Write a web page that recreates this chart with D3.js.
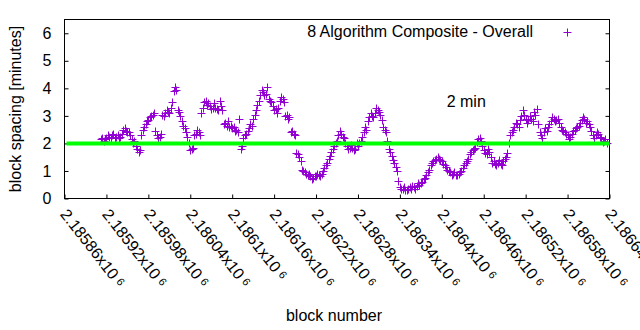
<!DOCTYPE html>
<html><head><meta charset="utf-8">
<script src="https://cdn.jsdelivr.net/npm/d3@7"></script>
<style>
html,body{margin:0;padding:0;background:#fff;}
svg{display:block;font-family:"Liberation Sans",Arial,sans-serif;}
</style></head>
<body><svg id="c" width="640" height="330"></svg>
<script>
const blocks = [
2185912,2185916,2185920,2185924,2185928,2185932,2185936,2185940,2185944,2185948,
2185952,2185956,2185960,2185964,2185968,2185972,2185976,2185980,2185984,2185988,
2185992,2185996,2186000,2186004,2186008,2186012,2186016,2186020,2186024,2186028,
2186032,2186036,2186040,2186044,2186048,2186052,2186056,2186060,2186064,2186068,
2186072,2186076,2186080,2186084,2186088,2186092,2186096,2186100,2186104,2186108,
2186112,2186116,2186120,2186124,2186128,2186132,2186136,2186140,2186144,2186148,
2186152,2186156,2186160,2186164,2186168,2186172,2186176,2186180,2186184,2186188,
2186192,2186196,2186200,2186204,2186208,2186212,2186216,2186220,2186224,2186228,
2186232,2186236,2186240,2186244,2186248,2186252,2186256,2186260,2186264,2186268,
2186272,2186276,2186280,2186284,2186288,2186292,2186296,2186300,2186304,2186308,
2186312,2186316,2186320,2186324,2186328,2186332,2186336,2186340,2186344,2186348,
2186352,2186356,2186360,2186364,2186368,2186372,2186376,2186380,2186384,2186388,
2186392,2186396,2186400,2186404,2186408,2186412,2186416,2186420,2186424,2186428,
2186432,2186436,2186440,2186444,2186448,2186452,2186456,2186460,2186464,2186468,
2186472,2186476,2186480,2186484,2186488,2186492,2186496,2186500,2186504,2186508,
2186512,2186516,2186520,2186524,2186528,2186532,2186536,2186540,2186544,2186548,
2186552,2186556,2186560,2186564,2186568,2186572,2186576,2186580,2186584,2186588,
2186592,2186596,2186600,2186604,2186608,2186612,2186616,2186620,2186624,2186628,
2186632,2186636];
const spacing = [
2.15,2.1,2.2,2.25,2.3,2.2,2.3,2.25,2.5,2.45,
2.4,2.15,2.1,1.8,1.75,2.5,2.7,2.85,3.0,3.1,
2.3,2.25,3.05,3.1,3.15,3.3,3.9,3.95,3.15,2.8,
2.55,2.25,1.75,1.85,2.35,2.4,3.1,3.5,3.4,3.35,
3.3,3.3,3.2,3.35,2.7,2.65,2.6,2.55,2.45,2.4,
1.8,2.2,2.35,2.55,2.65,3.05,3.4,3.75,3.85,3.8,
3.6,3.5,3.2,3.1,3.55,3.6,3.0,2.9,2.4,2.35,
1.65,1.5,1.05,0.95,0.85,0.8,0.75,0.8,0.85,0.9,
1.1,1.3,1.55,1.8,2.0,2.3,2.35,2.2,1.9,1.85,
1.85,1.8,1.9,2.1,2.4,2.5,2.95,3.0,3.1,3.2,
3.05,2.6,2.4,1.8,1.55,1.3,1.0,0.4,0.35,0.3,
0.35,0.35,0.4,0.45,0.5,0.6,0.75,0.95,1.2,1.35,
1.45,1.45,1.35,1.2,1.05,0.95,0.9,0.85,0.9,1.0,
1.2,1.35,1.6,1.75,1.85,2.15,2.1,1.75,1.6,1.7,
1.3,1.25,1.3,1.25,1.35,1.5,2.0,2.4,2.6,2.7,
2.85,3.2,2.9,2.85,2.9,3.15,3.25,2.4,2.2,2.55,
2.6,2.8,2.9,2.85,2.75,2.5,2.4,2.3,2.25,2.45,
2.55,2.65,2.85,2.9,2.8,2.6,2.3,2.3,2.35,2.2,
2.1,2.0];
const blocksB = [
2185914,2185918,2185922,2185926,2185930,2185934,2185938,2185942,2185946,2185950,
2185954,2185958,2185962,2185966,2185970,2185974,2185978,2185982,2185986,2185990,
2185994,2185998,2186002,2186006,2186010,2186014,2186018,2186022,2186026,2186030,
2186034,2186038,2186042,2186046,2186050,2186054,2186058,2186062,2186066,2186070,
2186074,2186078,2186082,2186086,2186090,2186094,2186098,2186102,2186106,2186110,
2186114,2186118,2186122,2186126,2186130,2186134,2186138,2186142,2186146,2186150,
2186154,2186158,2186162,2186166,2186170,2186174,2186178,2186182,2186186,2186190,
2186194,2186198,2186202,2186206,2186210,2186214,2186218,2186222,2186226,2186230,
2186234,2186238,2186242,2186246,2186250,2186254,2186258,2186262,2186266,2186270,
2186274,2186278,2186282,2186286,2186290,2186294,2186298,2186302,2186306,2186310,
2186314,2186318,2186322,2186326,2186330,2186334,2186338,2186342,2186346,2186350,
2186354,2186358,2186362,2186366,2186370,2186374,2186378,2186382,2186386,2186390,
2186394,2186398,2186402,2186406,2186410,2186414,2186418,2186422,2186426,2186430,
2186434,2186438,2186442,2186446,2186450,2186454,2186458,2186462,2186466,2186470,
2186474,2186478,2186482,2186486,2186490,2186494,2186498,2186502,2186506,2186510,
2186514,2186518,2186522,2186526,2186530,2186534,2186538,2186542,2186546,2186550,
2186554,2186558,2186562,2186566,2186570,2186574,2186578,2186582,2186586,2186590,
2186594,2186598,2186602,2186606,2186610,2186614,2186618,2186622,2186626,2186630,
2186634];
const spacingB = [
2.2,2.15,2.3,2.2,2.35,2.25,2.2,2.35,2.55,2.4,
2.3,2.0,1.9,1.7,2.3,2.6,2.8,2.95,3.05,2.45,
2.2,2.35,3.0,3.2,3.1,3.5,4.05,3.2,3.0,2.65,
2.4,2.0,1.8,2.3,2.5,2.3,3.3,3.55,3.45,3.25,
3.45,3.25,3.55,3.2,2.75,2.8,2.65,2.6,2.5,2.9,
1.9,2.3,2.45,2.7,2.9,3.2,3.55,3.95,3.75,4.05,
3.55,3.35,3.25,3.3,3.7,3.5,3.05,2.95,2.45,2.3,
1.6,1.35,1.0,0.9,0.9,0.7,0.8,0.9,0.8,1.0,
1.2,1.45,1.7,1.9,2.1,2.45,2.25,2.0,1.8,1.95,
1.75,2.0,2.0,2.25,2.6,2.8,3.1,2.95,3.3,3.15,
2.85,2.5,2.1,1.7,1.4,1.15,0.65,0.35,0.4,0.3,
0.4,0.45,0.35,0.55,0.55,0.7,0.85,1.05,1.3,1.4,
1.5,1.4,1.25,1.15,1.0,0.85,0.95,0.85,0.95,1.1,
1.3,1.45,1.7,1.8,2.05,2.2,1.9,1.65,1.8,1.5,
1.35,1.2,1.4,1.2,1.45,1.65,2.3,2.5,2.75,2.6,
3.0,3.05,2.75,3.0,2.8,3.05,2.7,2.3,2.4,2.45,
2.7,2.95,2.8,2.9,2.6,2.45,2.35,2.15,2.35,2.5,
2.6,2.75,2.95,2.75,2.7,2.45,2.2,2.4,2.25,2.05,
2.15];
const xTicks = [2185860,2185920,2185980,2186040,2186100,2186160,2186220,2186280,2186340,2186400,2186460,2186520,2186580,2186640];
const xTickLabels = ["2.18586","2.18592","2.18598","2.18604","2.1861","2.18616","2.18622","2.18628","2.18634","2.1864","2.18646","2.18652","2.18658","2.18664"];
const yTicks = [0,1,2,3,4,5,6];
const refLevel = 2;
const seriesName = "8 Algorithm Composite - Overall";
const refLabel = "2 min";

const svg = d3.select("#c");
const L=64.5, R=609.5, T=19.5, B=198.5;
const x = d3.scaleLinear().domain([2185860,2186640]).range([L,R]);
const y = d3.scaleLinear().domain([0,6.5]).range([B,T]);
const purple = "#9400d3";

const gy = svg.append("g").attr("transform",`translate(${L},0)`)
  .call(d3.axisLeft(y).tickValues(yTicks).tickSize(-4).tickPadding(13).tickFormat(d3.format("d")));
gy.select(".domain").remove();
gy.selectAll("text").attr("font-size",16).attr("fill","#000").attr("font-family","Liberation Sans, Arial, sans-serif");
gy.selectAll("line").attr("stroke","#000");
const gyr = svg.append("g").attr("transform",`translate(${R},0)`)
  .call(d3.axisRight(y).tickValues(yTicks).tickSize(-4).tickFormat(""));
gyr.select(".domain").remove();
gyr.selectAll("line").attr("stroke","#000");

const gx = svg.append("g").attr("transform",`translate(0,${B})`)
  .call(d3.axisBottom(x).tickValues(xTicks).tickSize(-4).tickFormat(""));
gx.select(".domain").remove();
gx.selectAll("line").attr("stroke","#000");

const xl = svg.append("g");
xTicks.forEach((t,i)=>{
  const tx = xl.append("text")
    .attr("transform",`translate(${x(t)-5},${B+16}) rotate(52)`)
    .attr("font-size",16).attr("fill","#000");
  tx.append("tspan").text(xTickLabels[i]+"x10");
  tx.append("tspan").attr("font-size",11).attr("dx",4).attr("dy",-3).text("6");
});

svg.append("rect").attr("x",L).attr("y",T).attr("width",R-L).attr("height",B-T)
  .attr("fill","none").attr("stroke","#000").attr("stroke-width",1);

const plus = "M-4,0H4M0,-4V4";
const pts = svg.append("g");
pts.selectAll("path.a").data(blocks).join("path").attr("class","a")
  .attr("transform",(d,i)=>`translate(${Math.round(x(d))+0.5},${Math.round(y(spacing[i]))+0.5})`)
  .attr("d",plus).attr("stroke",purple).attr("stroke-width",1).attr("fill","none");
pts.selectAll("path.b").data(blocksB).join("path").attr("class","b")
  .attr("transform",(d,i)=>`translate(${Math.round(x(d))+0.5},${Math.round(y(spacingB[i]))+0.5})`)
  .attr("d",plus).attr("stroke",purple).attr("stroke-width",1).attr("fill","none");

svg.append("line").attr("x1",L+2).attr("x2",R).attr("y1",y(refLevel)).attr("y2",y(refLevel))
  .attr("stroke","#00ff00").attr("stroke-width",4);

svg.append("text").attr("x",533).attr("y",37).attr("text-anchor","end")
  .attr("font-size",16).attr("fill","#000").text(seriesName);
svg.append("path").attr("transform","translate(567.5,32.5)").attr("d",plus)
  .attr("stroke",purple).attr("fill","none");

svg.append("text").attr("x",x(2186407)).attr("y",107).attr("font-size",16).attr("fill","#000").text(refLabel);

svg.append("text").attr("transform","translate(21,109) rotate(-90)").attr("text-anchor","middle")
  .attr("font-size",16).attr("fill","#000").text("block spacing [minutes]");
svg.append("text").attr("x",334).attr("y",321).attr("text-anchor","middle")
  .attr("font-size",16).attr("fill","#000").text("block number");
</script></body></html>
